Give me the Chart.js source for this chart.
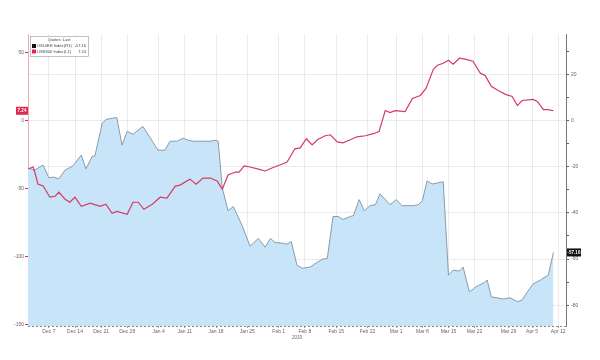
<!DOCTYPE html>
<html>
<head>
<meta charset="utf-8">
<script src="https://cdn.jsdelivr.net/npm/chart.js@4/dist/chart.umd.min.js"></script>
<style>
  html, body { margin: 0; padding: 0; background: #fff; }
  #wrap { width: 600px; height: 360px; }
</style>
</head>
<body>
<div id="wrap"><canvas id="chart"></canvas></div>
<script>
// x axis: trading-day slot, tick labels at these slots
const tick_days = [4, 9, 14, 19, 25, 30, 36, 42, 48, 53, 59, 65, 70.5, 75.5, 80.5, 85.5, 92, 96.5, 101.5];
const tick_labels = ['Dec 7', 'Dec 14', 'Dec 21', 'Dec 28', 'Jan 4', 'Jan 11', 'Jan 18', 'Jan 25', 'Feb 1', 'Feb 8',
  'Feb 15', 'Feb 22', 'Mar 1', 'Mar 8', 'Mar 15', 'Mar 22', 'Mar 29', 'Apr 5', 'Apr 12'];
const year_label = '2019';

// blue area series, right axis (R1)
const blue_days = [0, 1.3, 2.9, 4.0, 4.8, 5.9, 7.1, 8.6, 10.2, 11.1, 12.3, 12.8, 14.2, 14.9, 17.0, 18.0, 19.0, 20.1, 22.0, 23.8,
  24.9, 26.2, 27.2, 28.5, 29.7, 30.7, 31.6, 34.9, 35.8, 36.4, 37.2, 38.3, 39.3, 41.0, 42.5, 44.1, 45.4, 46.4, 47.3, 48.9,
  49.6, 50.4, 51.5, 52.5, 54.0, 55.4, 56.3, 57.3, 58.4, 59.4, 60.3, 61.7, 62.3, 63.4, 64.4, 65.5, 66.5, 67.4, 69.3, 70.5,
  71.6, 73.8, 74.7, 75.5, 76.4, 77.4, 79.5, 80.5, 81.4, 82.6, 83.3, 84.5, 86.0, 87.2, 87.9, 88.7, 89.8, 91.0, 92.3, 93.7,
  94.6, 95.6, 96.7, 98.1, 99.6, 100.6];
const blue_values = [-20.6, -21.5, -19.3, -24.9, -24.5, -25.3, -21.5, -19.7, -15.0, -21.0, -15.5, -15.5, -1.3, 0.4, 1.3, -10.7, -4.7, -6.0, -2.6, -9.0,
  -12.9, -12.9, -9.0, -9.0, -7.7, -8.6, -9.0, -9.0, -8.6, -9.0, -29.2, -39.1, -37.3, -45.5, -54.5, -51.1, -54.9, -51.1, -52.8, -53.2,
  -53.6, -52.4, -62.7, -64.0, -63.5, -61.4, -60.1, -59.7, -41.6, -41.6, -42.9, -41.6, -41.2, -34.3, -39.1, -36.9, -36.5, -31.8, -36.5, -34.3,
  -36.9, -36.9, -36.5, -34.8, -26.2, -27.5, -26.6, -67.0, -64.8, -65.2, -63.5, -74.2, -71.7, -70.4, -69.1, -76.4, -76.8, -77.3, -76.8, -78.5,
  -77.7, -74.2, -70.8, -69.1, -66.9, -57.16];

// red line series, left axis (L1)
const red_days = [0, 1.0, 1.5, 1.9, 2.9, 4.2, 5.2, 5.9, 7.1, 8.0, 9.0, 10.2, 11.9, 13.8, 14.9, 16.1, 17.0, 19.0, 20.1, 21.1,
  22.2, 23.8, 25.3, 26.6, 28.2, 29.1, 31.0, 32.2, 33.5, 34.9, 36.2, 37.2, 38.3, 39.7, 40.4, 41.4, 42.5, 44.1, 45.4, 46.7,
  48.7, 49.6, 51.1, 52.1, 53.3, 54.4, 55.4, 56.9, 57.9, 59.2, 60.3, 61.7, 63.0, 64.6, 66.1, 67.2, 68.4, 69.3, 70.3, 72.2,
  73.6, 75.1, 76.2, 77.6, 78.4, 79.5, 80.5, 81.4, 82.6, 83.7, 85.2, 86.6, 87.5, 88.7, 90.0, 91.4, 92.7, 93.7, 94.6, 96.7,
  97.5, 98.7, 99.6, 100.6];
const red_values = [-35.6, -34.1, -40.7, -46.7, -48.1, -56.3, -55.6, -52.6, -57.8, -60.0, -56.3, -63.0, -60.7, -63.0, -61.5, -68.1, -66.7, -68.9, -60.0, -60.0,
  -65.2, -61.5, -56.3, -57.0, -48.1, -47.4, -43.0, -46.7, -42.2, -42.2, -44.4, -50.4, -40.0, -37.8, -37.8, -33.3, -34.1, -35.6, -37.0, -34.8,
  -31.9, -30.4, -20.7, -20.0, -13.3, -17.8, -14.1, -11.1, -10.4, -15.6, -16.3, -14.1, -11.9, -11.1, -9.6, -8.1, 7.4, 5.9, 7.4, 6.7,
  16.3, 18.5, 23.7, 37.8, 40.7, 42.2, 44.4, 41.5, 45.9, 45.2, 43.7, 34.8, 33.3, 25.2, 22.2, 19.3, 17.8, 11.1, 14.8, 15.6,
  14.1, 8.1, 8.1, 7.24];

const left_ticks = [50, 0, -50, -100, -150];
const right_ticks = [30, 20, 10, 0, -10, -20, -30, -40, -50, -60, -70, -80];

const legend_title = 'Quotes: Last';
const legend_rows = [
  { name: 'US10ER Index', axis: '(R1)', last: '-57.16', color: '#111111' },
  { name: 'USSS00 Index', axis: '(L1)', last: '7.24', color: '#e0294f' },
];

const FONT = 'Arial, "Liberation Sans", sans-serif';

function to_points(days, values) {
  return days.map((d, i) => ({ x: d, y: values[i] }));
}

// legend box, last-value tags, dashed base line
const bbg_extras = {
  id: 'bbg_extras',
  afterDraw(chart) {
    const ctx = chart.ctx;
    const area = chart.chartArea;
    const yl = chart.scales.yL;
    const yr = chart.scales.yR;
    ctx.save();

    // dashed bottom axis
    ctx.strokeStyle = '#888';
    ctx.lineWidth = 1;
    ctx.setLineDash([2, 2]);
    ctx.beginPath();
    ctx.moveTo(area.left, area.bottom + 0.5);
    ctx.lineTo(area.right, area.bottom + 0.5);
    ctx.stroke();
    ctx.setLineDash([]);

    // legend box
    let bx = area.left + 2, by = area.top + 2, bw = 58, bh = 20;
    ctx.fillStyle = '#fff';
    ctx.fillRect(bx, by, bw, bh);
    ctx.strokeStyle = '#999';
    ctx.lineWidth = 0.6;
    ctx.strokeRect(bx + 0.5, by + 0.5, bw, bh);
    ctx.font = '4px ' + FONT;
    ctx.fillStyle = '#444';
    ctx.textAlign = 'center';
    ctx.textBaseline = 'middle';
    ctx.fillText(legend_title, bx + bw / 2, by + 4);
    legend_rows.forEach((r, i) => {
      let ry = by + 10 + i * 5.5;
      ctx.fillStyle = r.color;
      ctx.fillRect(bx + 2, ry - 2, 4, 4);
      ctx.fillStyle = '#444';
      ctx.textAlign = 'left';
      ctx.fillText(r.name, bx + 7, ry);
      ctx.fillText(r.axis, bx + 34, ry);
      ctx.textAlign = 'right';
      ctx.fillText(r.last, bx + bw - 2, ry);
    });

    // red tag on left axis
    let ry = yl.getPixelForValue(red_values[red_values.length - 1]);
    ctx.fillStyle = '#e0294f';
    ctx.fillRect(area.left - 12, ry - 4, 12, 8);
    ctx.fillStyle = '#fff';
    ctx.font = 'bold 4.5px ' + FONT;
    ctx.textAlign = 'center';
    ctx.fillText(String(red_values[red_values.length - 1]), area.left - 6, ry);

    // black tag on right axis
    let ty = yr.getPixelForValue(blue_values[blue_values.length - 1]);
    ctx.fillStyle = '#111';
    ctx.fillRect(area.right + 1, ty - 4, 14, 8);
    ctx.fillStyle = '#fff';
    ctx.fillText(String(blue_values[blue_values.length - 1]), area.right + 8, ty);
    ctx.restore();
  }
};

const ctx = document.getElementById('chart');
const chart = new Chart(ctx, {
  type: 'line',
  data: {
    datasets: [
      {
        label: legend_rows[1].name,
        data: to_points(red_days, red_values),
        yAxisID: 'yL',
        borderColor: '#d63a60',
        borderWidth: 1.2,
        pointRadius: 0,
        fill: false,
        tension: 0,
      },
      {
        label: legend_rows[0].name,
        data: to_points(blue_days, blue_values),
        yAxisID: 'yR',
        borderColor: '#8a9aab',
        borderWidth: 1,
        backgroundColor: '#c8e4f9',
        pointRadius: 0,
        fill: 'start',
        tension: 0,
      },
    ],
  },
  options: {
    responsive: true,
    maintainAspectRatio: false,
    animation: false,
    layout: { padding: { top: 34, left: 0, right: 0, bottom: 20 } },
    plugins: {
      legend: { display: false },
      tooltip: { enabled: false },
    },
    scales: {
      x: {
        type: 'linear',
        min: 0,
        max: 103,
        afterBuildTicks: (s) => { s.ticks = tick_days.map((v) => ({ value: v })); },
        afterFit: (s) => { s.height = 14; },
        ticks: {
          autoSkip: false,
          maxRotation: 0,
          padding: 1,
          font: { size: 5, family: FONT },
          color: '#666',
          callback: (v, i) => tick_labels[i],
        },
        grid: { color: '#e6e6e6', lineWidth: 0.8, tickLength: 2, tickColor: '#888' },
        border: { display: false },
        title: { display: true, text: year_label, font: { size: 4.5, family: FONT }, color: '#666', padding: 0 },
      },
      yL: {
        position: 'left',
        min: -151,
        max: 63.7,
        afterBuildTicks: (s) => { s.ticks = left_ticks.map((v) => ({ value: v })); },
        afterFit: (s) => { s.width = 28; },
        ticks: { font: { size: 5, family: FONT }, color: '#666', padding: 1 },
        grid: { drawOnChartArea: false, tickLength: 3, tickColor: '#e0294f' },
        border: { color: '#f2a9b8' },
      },
      yR: {
        position: 'right',
        min: -89,
        max: 37.4,
        afterBuildTicks: (s) => { s.ticks = right_ticks.map((v) => ({ value: v })); },
        afterFit: (s) => { s.width = 34; },
        ticks: {
          font: { size: 5, family: FONT },
          color: '#666',
          padding: 2,
          callback: (v) => (v % 20 === 0 ? String(v) : ''),
        },
        grid: {
          color: (c) => (c.tick && c.tick.value % 20 === 0 ? '#e6e6e6' : 'rgba(0,0,0,0)'),
          lineWidth: 0.8,
          tickLength: 3,
          tickColor: '#333',
        },
        border: { color: '#777' },
      },
    },
  },
  plugins: [bbg_extras],
});
</script>
</body>
</html>
